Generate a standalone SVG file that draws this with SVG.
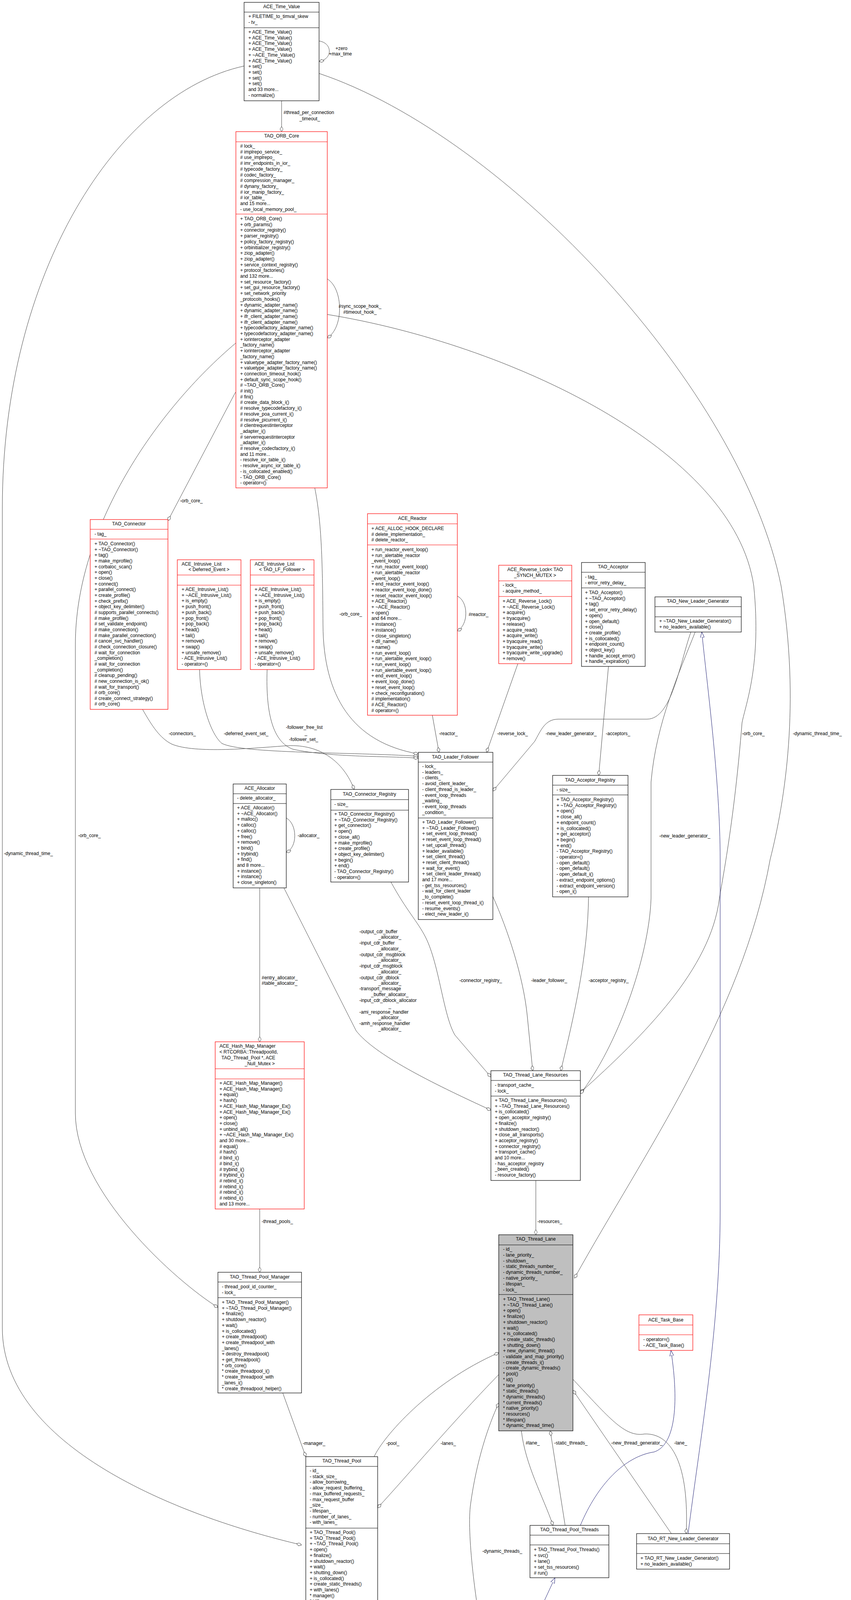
<svg xmlns="http://www.w3.org/2000/svg" width="2179" height="4395" viewBox="0 0 2179 4395">
<style>
text{font-family:"Liberation Sans",Arial,sans-serif;font-size:12px;fill:#000}
.c{text-anchor:middle}
.b{fill:#fff;stroke:#000;stroke-width:1.2}
.r{fill:#fff;stroke:#f00;stroke-width:1.2}
.g{fill:#bfbfbf;stroke:#000;stroke-width:1.2}
.sb{stroke:#000;stroke-width:1.2;fill:none}
.sr{stroke:#f00;stroke-width:1.2;fill:none}
.e{fill:none;stroke:#404040;stroke-width:1;marker-end:url(#dia)}
.i{fill:none;stroke:#191970;stroke-width:1;marker-end:url(#tri)}
</style>
<defs>
<marker id="dia" markerUnits="userSpaceOnUse" markerWidth="16" markerHeight="10" refX="13" refY="4" orient="auto" viewBox="0 0 16 10"><path d="M0,4 L6.5,0 L13,4 L6.5,8 Z" fill="#fff" stroke="#404040"/></marker>
<marker id="tri" markerUnits="userSpaceOnUse" markerWidth="16" markerHeight="12" refX="14" refY="6" orient="auto" viewBox="0 0 16 12"><path d="M0,1 L14,6 L0,11 Z" fill="#fff" stroke="#191970"/></marker>
</defs>
<rect width="2179" height="4395" fill="#fff"/>
<g id="connectors">
<path class="e" d="M721,258 L721,337"/>
<path class="e" d="M817,105 C852,110 852,152 817,157"/>
<path class="e" d="M625,169 C300,240 6,700 6,1300 L6,3400 C6,3700 450,3880 772,3955"/>
<path class="e" d="M817,188 C1300,350 1900,1000 2000,1500 C2050,1800 2010,2050 1972,2200 C1900,2600 1650,2950 1471,3272"/>
<path class="e" d="M838,714 C880,740 880,840 838,865"/>
<path class="e" d="M603,1004 L430,1333"/>
<path class="e" d="M806,1249 C822,1330 826,1420 827,1600 C828,1780 900,1900 1071,1930"/>
<path class="e" d="M838,805 C1300,880 1880,1150 1930,1500 C1950,1700 1910,1800 1900,1850 C1880,2100 1850,2250 1842,2300 C1820,2480 1650,2650 1486,2797"/>
<path class="e" d="M604,878 C400,1050 193,1350 193,1650 L193,2850 C193,3050 450,3280 558,3347"/>
<path class="e" d="M365,1816 C390,1860 410,1890 440,1905 C500,1930 650,1915 736,1909 C820,1905 880,1950 907,2021"/>
<path class="e" d="M511,1714 C513,1800 540,1880 568,1903 C620,1930 900,1925 1071,1936"/>
<path class="e" d="M684,1714 C680,1830 700,1900 750,1918 C850,1940 1000,1935 1071,1941"/>
<path class="e" d="M1107,1831 L1124,1926"/>
<path class="e" d="M1326,1699 L1246,1926"/>
<path class="e" d="M1769,1618 C1740,1700 1720,1841 1657,1841 L1430,1841 C1395,1841 1385,1870 1369,1898 L1262,2025"/>
<path class="e" d="M1558,1706 L1533,1985"/>
<path class="e" d="M1171,1526 C1200,1540 1200,1600 1171,1615"/>
<path class="e" d="M733,2094 C762,2110 762,2170 733,2182"/>
<path class="e" d="M665,2273 L665,2667"/>
<path class="e" d="M727,2273 L912,2639 C960,2700 1100,2770 1257,2842"/>
<path class="e" d="M665,3095 L665,3257"/>
<path class="e" d="M1001,2258 C1040,2330 1070,2360 1090,2400 C1125,2470 1135,2600 1165,2650 L1257,2757"/>
<path class="e" d="M1262,2295 C1300,2380 1340,2500 1350,2600 L1364,2741"/>
<path class="e" d="M1507,2296 C1505,2450 1470,2600 1436,2741"/>
<path class="e" d="M1780,1618 C1740,1720 1680,1850 1667,2002 L1667,2300 C1662,2450 1580,2680 1486,2800"/>
<path class="e" d="M1372,3022 L1372,3161"/>
<path class="e" d="M724,3566 L783,3729"/>
<path class="e" d="M958,3729 C980,3680 1100,3540 1277,3463"/>
<path class="e" d="M1277,3519 C1150,3650 1050,3770 967,3860"/>
<path class="e" d="M1250,4268 C1215,4100 1195,3920 1205,3850 C1220,3740 1250,3650 1277,3592"/>
<path class="e" d="M1335,3663 C1345,3750 1390,3830 1416,3905"/>
<path class="e" d="M1447,3905 L1409,3663"/>
<path class="e" d="M1719,3926 L1467,3559"/>
<path class="e" d="M1467,3531 C1560,3630 1600,3680 1650,3671 C1720,3668 1765,3750 1757,3926"/>
<path class="i" d="M1762,3926 C1790,3700 1844,3400 1844,3100 L1844,2200 C1844,2000 1810,1750 1797,1618"/>
<path class="i" d="M1486,3905 C1530,3800 1600,3728 1675,3717 C1727,3700 1740,3600 1718,3457"/>
<path class="i" d="M1315,4268 L1421,4039"/>
<text x="859" y="128">+zero</text>
<text x="842" y="142">+max_time</text>
<text x="726" y="292">#thread_per_connection</text>
<text class="c" x="793" y="308">_timeout_</text>
<text x="867" y="788">#sync_scope_hook_</text>
<text x="879" y="803">#timeout_hook_</text>
<text x="461" y="1286">-orb_core_</text>
<text x="869" y="1576">-orb_core_</text>
<text x="1200" y="1577">#reactor_</text>
<text x="432" y="1882">-connectors_</text>
<text x="573" y="1882">-deferred_event_set_</text>
<text x="732" y="1866">-follower_free_list</text>
<text x="780" y="1881">_</text>
<text x="740" y="1897">-follower_set_</text>
<text x="1124" y="1882">-reactor_</text>
<text x="1273" y="1882">-reverse_lock_</text>
<text x="1397" y="1882">-new_leader_generator_</text>
<text x="1551" y="1882">-acceptors_</text>
<text x="1900" y="1882">-orb_core_</text>
<text x="2030" y="1882">-dynamic_thread_time_</text>
<text x="762" y="2143">-allocator_</text>
<text x="200" y="2143">-orb_core_</text>
<text x="10" y="2189">-dynamic_thread_time_</text>
<text x="1688" y="2144">-new_leader_generator_</text>
<text x="670" y="2507">#entry_allocator_</text>
<text x="670" y="2521">#table_allocator_</text>
<text x="920" y="2389">-output_cdr_buffer</text>
<text class="c" x="998" y="2403">_allocator_</text>
<text x="920" y="2418">-input_cdr_buffer</text>
<text class="c" x="998" y="2433">_allocator_</text>
<text x="920" y="2448">-output_cdr_msgblock</text>
<text class="c" x="998" y="2462">_allocator_</text>
<text x="920" y="2477">-input_cdr_msgblock</text>
<text class="c" x="998" y="2492">_allocator_</text>
<text x="920" y="2507">-output_cdr_dblock</text>
<text class="c" x="998" y="2521">_allocator_</text>
<text x="920" y="2535">-transport_message</text>
<text class="c" x="998" y="2550">_buffer_allocator_</text>
<text x="920" y="2565">-input_cdr_dblock_allocator</text>
<text class="c" x="998" y="2580">_</text>
<text x="920" y="2595">-ami_response_handler</text>
<text class="c" x="998" y="2609">_allocator_</text>
<text x="920" y="2624">-amh_response_handler</text>
<text class="c" x="998" y="2638">_allocator_</text>
<text x="1176" y="2514">-connector_registry_</text>
<text x="1360" y="2514">-leader_follower_</text>
<text x="1507" y="2514">-acceptor_registry_</text>
<text x="670" y="3131">-thread_pools_</text>
<text x="1376" y="3131">-resources_</text>
<text x="775" y="3699">-manager_</text>
<text x="989" y="3699">-pool_</text>
<text x="1128" y="3699">-lanes_</text>
<text x="1346" y="3698">#lane_</text>
<text x="1419" y="3698">-static_threads_</text>
<text x="1565" y="3698">-new_thread_generator_</text>
<text x="1726" y="3698">-lane_</text>
<text x="1235" y="3975">-dynamic_threads_</text>
</g>
<g id="ace_time_value"><rect class="b" x="625" y="6" width="192" height="252"/><path class="sb" d="M625,31H817M625,71H817"/>
<text class="c" x="721" y="21">ACE_Time_Value</text>
<text x="636" y="46">+ FILETIME_to_timval_skew<tspan x="636" dy="14.7">- tv_</tspan></text>
<text x="636" y="86">+ ACE_Time_Value()<tspan x="636" dy="14.7">+ ACE_Time_Value()</tspan><tspan x="636" dy="14.7">+ ACE_Time_Value()</tspan><tspan x="636" dy="14.7">+ ACE_Time_Value()</tspan><tspan x="636" dy="14.7">+ ~ACE_Time_Value()</tspan><tspan x="636" dy="14.7">+ ACE_Time_Value()</tspan><tspan x="636" dy="14.7">+ set()</tspan><tspan x="636" dy="14.7">+ set()</tspan><tspan x="636" dy="14.7">+ set()</tspan><tspan x="636" dy="14.7">+ set()</tspan><tspan x="636" dy="14.7">and 33 more...</tspan><tspan x="636" dy="14.7">- normalize()</tspan></text></g>
<g id="tao_orb_core"><rect class="r" x="604" y="337" width="234" height="912"/><path class="sr" d="M604,363H838M604,548H838"/>
<text class="c" x="721" y="352">TAO_ORB_Core</text>
<text x="615" y="378"># lock_<tspan x="615" dy="14.7"># implrepo_service_</tspan><tspan x="615" dy="14.7"># use_implrepo_</tspan><tspan x="615" dy="14.7"># imr_endpoints_in_ior_</tspan><tspan x="615" dy="14.7"># typecode_factory_</tspan><tspan x="615" dy="14.7"># codec_factory_</tspan><tspan x="615" dy="14.7"># compression_manager_</tspan><tspan x="615" dy="14.7"># dynany_factory_</tspan><tspan x="615" dy="14.7"># ior_manip_factory_</tspan><tspan x="615" dy="14.7"># ior_table_</tspan><tspan x="615" dy="14.7">and 15 more...</tspan><tspan x="615" dy="14.7">- use_local_memory_pool_</tspan></text>
<text x="615" y="564">+ TAO_ORB_Core()<tspan x="615" dy="14.7">+ orb_params()</tspan><tspan x="615" dy="14.7">+ connector_registry()</tspan><tspan x="615" dy="14.7">+ parser_registry()</tspan><tspan x="615" dy="14.7">+ policy_factory_registry()</tspan><tspan x="615" dy="14.7">+ orbinitializer_registry()</tspan><tspan x="615" dy="14.7">+ ziop_adapter()</tspan><tspan x="615" dy="14.7">+ ziop_adapter()</tspan><tspan x="615" dy="14.7">+ service_context_registry()</tspan><tspan x="615" dy="14.7">+ protocol_factories()</tspan><tspan x="615" dy="14.7">and 132 more...</tspan><tspan x="615" dy="14.7">+ set_resource_factory()</tspan><tspan x="615" dy="14.7">+ set_gui_resource_factory()</tspan><tspan x="615" dy="14.7">+ set_network_priority</tspan><tspan x="615" dy="14.7">_protocols_hooks()</tspan><tspan x="615" dy="14.7">+ dynamic_adapter_name()</tspan><tspan x="615" dy="14.7">+ dynamic_adapter_name()</tspan><tspan x="615" dy="14.7">+ ifr_client_adapter_name()</tspan><tspan x="615" dy="14.7">+ ifr_client_adapter_name()</tspan><tspan x="615" dy="14.7">+ typecodefactory_adapter_name()</tspan><tspan x="615" dy="14.7">+ typecodefactory_adapter_name()</tspan><tspan x="615" dy="14.7">+ iorinterceptor_adapter</tspan><tspan x="615" dy="14.7">_factory_name()</tspan><tspan x="615" dy="14.7">+ iorinterceptor_adapter</tspan><tspan x="615" dy="14.7">_factory_name()</tspan><tspan x="615" dy="14.7">+ valuetype_adapter_factory_name()</tspan><tspan x="615" dy="14.7">+ valuetype_adapter_factory_name()</tspan><tspan x="615" dy="14.7">+ connection_timeout_hook()</tspan><tspan x="615" dy="14.7">+ default_sync_scope_hook()</tspan><tspan x="615" dy="14.7"># ~TAO_ORB_Core()</tspan><tspan x="615" dy="14.7"># init()</tspan><tspan x="615" dy="14.7"># fini()</tspan><tspan x="615" dy="14.7"># create_data_block_i()</tspan><tspan x="615" dy="14.7"># resolve_typecodefactory_i()</tspan><tspan x="615" dy="14.7"># resolve_poa_current_i()</tspan><tspan x="615" dy="14.7"># resolve_picurrent_i()</tspan><tspan x="615" dy="14.7"># clientrequestinterceptor</tspan><tspan x="615" dy="14.7">_adapter_i()</tspan><tspan x="615" dy="14.7"># serverrequestinterceptor</tspan><tspan x="615" dy="14.7">_adapter_i()</tspan><tspan x="615" dy="14.7"># resolve_codecfactory_i()</tspan><tspan x="615" dy="14.7">and 11 more...</tspan><tspan x="615" dy="14.7">- resolve_ior_table_i()</tspan><tspan x="615" dy="14.7">- resolve_async_ior_table_i()</tspan><tspan x="615" dy="14.7">- is_collocated_enabled()</tspan><tspan x="615" dy="14.7">- TAO_ORB_Core()</tspan><tspan x="615" dy="14.7">- operator=()</tspan></text></g>
<g id="tao_connector"><rect class="r" x="231" y="1330" width="199" height="486"/><path class="sr" d="M231,1355H430M231,1380H430"/>
<text class="c" x="330" y="1345">TAO_Connector</text>
<text x="242" y="1371">- tag_</text>
<text x="242" y="1396">+ TAO_Connector()<tspan x="242" dy="14.66">+ ~TAO_Connector()</tspan><tspan x="242" dy="14.66">+ tag()</tspan><tspan x="242" dy="14.66">+ make_mprofile()</tspan><tspan x="242" dy="14.66">+ corbaloc_scan()</tspan><tspan x="242" dy="14.66">+ open()</tspan><tspan x="242" dy="14.66">+ close()</tspan><tspan x="242" dy="14.66">+ connect()</tspan><tspan x="242" dy="14.66">+ parallel_connect()</tspan><tspan x="242" dy="14.66">+ create_profile()</tspan><tspan x="242" dy="14.66">+ check_prefix()</tspan><tspan x="242" dy="14.66">+ object_key_delimiter()</tspan><tspan x="242" dy="14.66"># supports_parallel_connects()</tspan><tspan x="242" dy="14.66"># make_profile()</tspan><tspan x="242" dy="14.66"># set_validate_endpoint()</tspan><tspan x="242" dy="14.66"># make_connection()</tspan><tspan x="242" dy="14.66"># make_parallel_connection()</tspan><tspan x="242" dy="14.66"># cancel_svc_handler()</tspan><tspan x="242" dy="14.66"># check_connection_closure()</tspan><tspan x="242" dy="14.66"># wait_for_connection</tspan><tspan x="242" dy="14.66">_completion()</tspan><tspan x="242" dy="14.66"># wait_for_connection</tspan><tspan x="242" dy="14.66">_completion()</tspan><tspan x="242" dy="14.66"># cleanup_pending()</tspan><tspan x="242" dy="14.66"># new_connection_is_ok()</tspan><tspan x="242" dy="14.66"># wait_for_transport()</tspan><tspan x="242" dy="14.66"># orb_core()</tspan><tspan x="242" dy="14.66"># create_connect_strategy()</tspan><tspan x="242" dy="14.66"># orb_core()</tspan></text></g>
<g id="intrusive_list_deferred"><rect class="r" x="454" y="1433" width="163" height="281"/><path class="sr" d="M454,1472H617M454,1498H617"/>
<text x="465" y="1448">ACE_Intrusive_List</text><text class="c" x="535" y="1462">&lt; Deferred_Event &gt;</text>
<text x="465" y="1513">+ ACE_Intrusive_List()<tspan x="465" dy="14.7">+ ~ACE_Intrusive_List()</tspan><tspan x="465" dy="14.7">+ is_empty()</tspan><tspan x="465" dy="14.7">+ push_front()</tspan><tspan x="465" dy="14.7">+ push_back()</tspan><tspan x="465" dy="14.7">+ pop_front()</tspan><tspan x="465" dy="14.7">+ pop_back()</tspan><tspan x="465" dy="14.7">+ head()</tspan><tspan x="465" dy="14.7">+ tail()</tspan><tspan x="465" dy="14.7">+ remove()</tspan><tspan x="465" dy="14.7">+ swap()</tspan><tspan x="465" dy="14.7">+ unsafe_remove()</tspan><tspan x="465" dy="14.7">- ACE_Intrusive_List()</tspan><tspan x="465" dy="14.7">- operator=()</tspan></text></g>
<g id="intrusive_list_follower"><rect class="r" x="641" y="1433" width="163" height="281"/><path class="sr" d="M641,1472H804M641,1498H804"/>
<text x="652" y="1448">ACE_Intrusive_List</text><text class="c" x="722" y="1462">&lt; TAO_LF_Follower &gt;</text>
<text x="652" y="1513">+ ACE_Intrusive_List()<tspan x="652" dy="14.7">+ ~ACE_Intrusive_List()</tspan><tspan x="652" dy="14.7">+ is_empty()</tspan><tspan x="652" dy="14.7">+ push_front()</tspan><tspan x="652" dy="14.7">+ push_back()</tspan><tspan x="652" dy="14.7">+ pop_front()</tspan><tspan x="652" dy="14.7">+ pop_back()</tspan><tspan x="652" dy="14.7">+ head()</tspan><tspan x="652" dy="14.7">+ tail()</tspan><tspan x="652" dy="14.7">+ remove()</tspan><tspan x="652" dy="14.7">+ swap()</tspan><tspan x="652" dy="14.7">+ unsafe_remove()</tspan><tspan x="652" dy="14.7">- ACE_Intrusive_List()</tspan><tspan x="652" dy="14.7">- operator=()</tspan></text></g>
<g id="ace_reactor"><rect class="r" x="941" y="1315" width="230" height="516"/><path class="sr" d="M941,1341H1171M941,1395H1171"/>
<text class="c" x="1056" y="1331">ACE_Reactor</text>
<text x="951" y="1357">+ ACE_ALLOC_HOOK_DECLARE<tspan x="951" dy="14.7"># delete_implementation_</tspan><tspan x="951" dy="14.7"># delete_reactor_</tspan></text>
<text x="951" y="1411">+ run_reactor_event_loop()<tspan x="951" dy="14.7">+ run_alertable_reactor</tspan><tspan x="951" dy="14.7">_event_loop()</tspan><tspan x="951" dy="14.7">+ run_reactor_event_loop()</tspan><tspan x="951" dy="14.7">+ run_alertable_reactor</tspan><tspan x="951" dy="14.7">_event_loop()</tspan><tspan x="951" dy="14.7">+ end_reactor_event_loop()</tspan><tspan x="951" dy="14.7">+ reactor_event_loop_done()</tspan><tspan x="951" dy="14.7">+ reset_reactor_event_loop()</tspan><tspan x="951" dy="14.7">+ ACE_Reactor()</tspan><tspan x="951" dy="14.7">+ ~ACE_Reactor()</tspan><tspan x="951" dy="14.7">+ open()</tspan><tspan x="951" dy="14.7">and 64 more...</tspan><tspan x="951" dy="14.7">+ instance()</tspan><tspan x="951" dy="14.7">+ instance()</tspan><tspan x="951" dy="14.7">+ close_singleton()</tspan><tspan x="951" dy="14.7">+ dll_name()</tspan><tspan x="951" dy="14.7">+ name()</tspan><tspan x="951" dy="14.7">+ run_event_loop()</tspan><tspan x="951" dy="14.7">+ run_alertable_event_loop()</tspan><tspan x="951" dy="14.7">+ run_event_loop()</tspan><tspan x="951" dy="14.7">+ run_alertable_event_loop()</tspan><tspan x="951" dy="14.7">+ end_event_loop()</tspan><tspan x="951" dy="14.7">+ event_loop_done()</tspan><tspan x="951" dy="14.7">+ reset_event_loop()</tspan><tspan x="951" dy="14.7">+ check_reconfiguration()</tspan><tspan x="951" dy="14.7"># implementation()</tspan><tspan x="951" dy="14.7"># ACE_Reactor()</tspan><tspan x="951" dy="14.7"># operator=()</tspan></text></g>
<g id="ace_reverse_lock"><rect class="r" x="1277" y="1447" width="187" height="252"/><path class="sr" d="M1277,1487H1464M1277,1527H1464"/>
<text class="c" x="1370" y="1462">ACE_Reverse_Lock&lt; TAO</text><text class="c" x="1370" y="1477">_SYNCH_MUTEX &gt;</text>
<text x="1287" y="1502">- lock_<tspan x="1287" dy="14.7">- acquire_method_</tspan></text>
<text x="1287" y="1543">+ ACE_Reverse_Lock()<tspan x="1287" dy="14.7">+ ~ACE_Reverse_Lock()</tspan><tspan x="1287" dy="14.7">+ acquire()</tspan><tspan x="1287" dy="14.7">+ tryacquire()</tspan><tspan x="1287" dy="14.7">+ release()</tspan><tspan x="1287" dy="14.7">+ acquire_read()</tspan><tspan x="1287" dy="14.7">+ acquire_write()</tspan><tspan x="1287" dy="14.7">+ tryacquire_read()</tspan><tspan x="1287" dy="14.7">+ tryacquire_write()</tspan><tspan x="1287" dy="14.7">+ tryacquire_write_upgrade()</tspan><tspan x="1287" dy="14.7">+ remove()</tspan></text></g>
<g id="tao_acceptor"><rect class="b" x="1489" y="1440" width="163" height="266"/><path class="sb" d="M1489,1465H1652M1489,1505H1652"/>
<text class="c" x="1570" y="1455">TAO_Acceptor</text>
<text x="1498" y="1481">- tag_<tspan x="1498" dy="14.7">- error_retry_delay_</tspan></text>
<text x="1498" y="1521">+ TAO_Acceptor()<tspan x="1498" dy="14.7">+ ~TAO_Acceptor()</tspan><tspan x="1498" dy="14.7">+ tag()</tspan><tspan x="1498" dy="14.7">+ set_error_retry_delay()</tspan><tspan x="1498" dy="14.7">+ open()</tspan><tspan x="1498" dy="14.7">+ open_default()</tspan><tspan x="1498" dy="14.7">+ close()</tspan><tspan x="1498" dy="14.7">+ create_profile()</tspan><tspan x="1498" dy="14.7">+ is_collocated()</tspan><tspan x="1498" dy="14.7">+ endpoint_count()</tspan><tspan x="1498" dy="14.7">+ object_key()</tspan><tspan x="1498" dy="14.7">+ handle_accept_error()</tspan><tspan x="1498" dy="14.7">+ handle_expiration()</tspan></text></g>
<g id="tao_new_leader_generator"><rect class="b" x="1677" y="1528" width="221" height="90"/><path class="sb" d="M1677,1553H1898M1677,1579H1898"/>
<text class="c" x="1787" y="1543">TAO_New_Leader_Generator</text>
<text x="1688" y="1594">+ ~TAO_New_Leader_Generator()<tspan x="1688" dy="14.7">+ no_leaders_available()</tspan></text></g>
<g id="tao_leader_follower"><rect class="b" x="1071" y="1926" width="191" height="428"/><path class="sb" d="M1071,1951H1262M1071,2094H1262"/>
<text class="c" x="1166" y="1942">TAO_Leader_Follower</text>
<text x="1081" y="1966">- lock_<tspan x="1081" dy="14.7">- leaders_</tspan><tspan x="1081" dy="14.7">- clients_</tspan><tspan x="1081" dy="14.7">- avoid_client_leader_</tspan><tspan x="1081" dy="14.7">- client_thread_is_leader_</tspan><tspan x="1081" dy="14.7">- event_loop_threads</tspan><tspan x="1081" dy="14.7">_waiting_</tspan><tspan x="1081" dy="14.7">- event_loop_threads</tspan><tspan x="1081" dy="14.7">_condition_</tspan></text>
<text x="1081" y="2109">+ TAO_Leader_Follower()<tspan x="1081" dy="14.7">+ ~TAO_Leader_Follower()</tspan><tspan x="1081" dy="14.7">+ set_event_loop_thread()</tspan><tspan x="1081" dy="14.7">+ reset_event_loop_thread()</tspan><tspan x="1081" dy="14.7">+ set_upcall_thread()</tspan><tspan x="1081" dy="14.7">+ leader_available()</tspan><tspan x="1081" dy="14.7">+ set_client_thread()</tspan><tspan x="1081" dy="14.7">+ reset_client_thread()</tspan><tspan x="1081" dy="14.7">+ wait_for_event()</tspan><tspan x="1081" dy="14.7">+ set_client_leader_thread()</tspan><tspan x="1081" dy="14.7">and 17 more...</tspan><tspan x="1081" dy="14.7">- get_tss_resources()</tspan><tspan x="1081" dy="14.7">- wait_for_client_leader</tspan><tspan x="1081" dy="14.7">_to_complete()</tspan><tspan x="1081" dy="14.7">- reset_event_loop_thread_i()</tspan><tspan x="1081" dy="14.7">- resume_events()</tspan><tspan x="1081" dy="14.7">- elect_new_leader_i()</tspan></text></g>
<g id="tao_connector_registry"><rect class="b" x="847" y="2021" width="199" height="237"/><path class="sb" d="M847,2047H1046M847,2074H1046"/>
<text class="c" x="946" y="2037">TAO_Connector_Registry</text>
<text x="856" y="2063">- size_</text>
<text x="856" y="2088">+ TAO_Connector_Registry()<tspan x="856" dy="14.7">+ ~TAO_Connector_Registry()</tspan><tspan x="856" dy="14.7">+ get_connector()</tspan><tspan x="856" dy="14.7">+ open()</tspan><tspan x="856" dy="14.7">+ close_all()</tspan><tspan x="856" dy="14.7">+ make_mprofile()</tspan><tspan x="856" dy="14.7">+ create_profile()</tspan><tspan x="856" dy="14.7">+ object_key_delimiter()</tspan><tspan x="856" dy="14.7">+ begin()</tspan><tspan x="856" dy="14.7">+ end()</tspan><tspan x="856" dy="14.7">- TAO_Connector_Registry()</tspan><tspan x="856" dy="14.7">- operator=()</tspan></text></g>
<g id="tao_acceptor_registry"><rect class="b" x="1415" y="1985" width="193" height="311"/><path class="sb" d="M1415,2010H1608M1415,2035H1608"/>
<text class="c" x="1511" y="2001">TAO_Acceptor_Registry</text>
<text x="1425" y="2026">- size_</text>
<text x="1425" y="2051">+ TAO_Acceptor_Registry()<tspan x="1425" dy="14.7">+ ~TAO_Acceptor_Registry()</tspan><tspan x="1425" dy="14.7">+ open()</tspan><tspan x="1425" dy="14.7">+ close_all()</tspan><tspan x="1425" dy="14.7">+ endpoint_count()</tspan><tspan x="1425" dy="14.7">+ is_collocated()</tspan><tspan x="1425" dy="14.7">+ get_acceptor()</tspan><tspan x="1425" dy="14.7">+ begin()</tspan><tspan x="1425" dy="14.7">+ end()</tspan><tspan x="1425" dy="14.7">- TAO_Acceptor_Registry()</tspan><tspan x="1425" dy="14.7">- operator=()</tspan><tspan x="1425" dy="14.7">- open_default()</tspan><tspan x="1425" dy="14.7">- open_default()</tspan><tspan x="1425" dy="14.7">- open_default_i()</tspan><tspan x="1425" dy="14.7">- extract_endpoint_options()</tspan><tspan x="1425" dy="14.7">- extract_endpoint_version()</tspan><tspan x="1425" dy="14.7">- open_i()</tspan></text></g>
<g id="ace_allocator"><rect class="b" x="597" y="2007" width="136" height="266"/><path class="sb" d="M597,2032H733M597,2057H733"/>
<text class="c" x="665" y="2022">ACE_Allocator</text>
<text x="607" y="2047">- delete_allocator_</text>
<text x="607" y="2072">+ ACE_Allocator()<tspan x="607" dy="14.7">+ ~ACE_Allocator()</tspan><tspan x="607" dy="14.7">+ malloc()</tspan><tspan x="607" dy="14.7">+ calloc()</tspan><tspan x="607" dy="14.7">+ calloc()</tspan><tspan x="607" dy="14.7">+ free()</tspan><tspan x="607" dy="14.7">+ remove()</tspan><tspan x="607" dy="14.7">+ bind()</tspan><tspan x="607" dy="14.7">+ trybind()</tspan><tspan x="607" dy="14.7">+ find()</tspan><tspan x="607" dy="14.7">and 8 more...</tspan><tspan x="607" dy="14.7">+ instance()</tspan><tspan x="607" dy="14.7">+ instance()</tspan><tspan x="607" dy="14.7">+ close_singleton()</tspan></text></g>
<g id="ace_hash_map_manager"><rect class="r" x="551" y="2667" width="228" height="428"/><path class="sr" d="M551,2736H779M551,2762H779"/>
<text x="562" y="2682">ACE_Hash_Map_Manager</text><text x="562" y="2697">&lt; RTCORBA::ThreadpoolId,</text><text x="567" y="2712">TAO_Thread_Pool *, ACE</text><text class="c" x="665" y="2727">_Null_Mutex &gt;</text>
<text x="562" y="2777">+ ACE_Hash_Map_Manager()<tspan x="562" dy="14.7">+ ACE_Hash_Map_Manager()</tspan><tspan x="562" dy="14.7">+ equal()</tspan><tspan x="562" dy="14.7">+ hash()</tspan><tspan x="562" dy="14.7">+ ACE_Hash_Map_Manager_Ex()</tspan><tspan x="562" dy="14.7">+ ACE_Hash_Map_Manager_Ex()</tspan><tspan x="562" dy="14.7">+ open()</tspan><tspan x="562" dy="14.7">+ close()</tspan><tspan x="562" dy="14.7">+ unbind_all()</tspan><tspan x="562" dy="14.7">+ ~ACE_Hash_Map_Manager_Ex()</tspan><tspan x="562" dy="14.7">and 30 more...</tspan><tspan x="562" dy="14.7"># equal()</tspan><tspan x="562" dy="14.7"># hash()</tspan><tspan x="562" dy="14.7"># bind_i()</tspan><tspan x="562" dy="14.7"># bind_i()</tspan><tspan x="562" dy="14.7"># trybind_i()</tspan><tspan x="562" dy="14.7"># trybind_i()</tspan><tspan x="562" dy="14.7"># rebind_i()</tspan><tspan x="562" dy="14.7"># rebind_i()</tspan><tspan x="562" dy="14.7"># rebind_i()</tspan><tspan x="562" dy="14.7"># rebind_i()</tspan><tspan x="562" dy="14.7">and 13 more...</tspan></text></g>
<g id="tao_thread_lane_resources"><rect class="b" x="1257" y="2741" width="229" height="281"/><path class="sb" d="M1257,2766H1486M1257,2806H1486"/>
<text class="c" x="1371" y="2756">TAO_Thread_Lane_Resources</text>
<text x="1267" y="2782">- transport_cache_<tspan x="1267" dy="14.7">- lock_</tspan></text>
<text x="1267" y="2821">+ TAO_Thread_Lane_Resources()<tspan x="1267" dy="14.7">+ ~TAO_Thread_Lane_Resources()</tspan><tspan x="1267" dy="14.7">+ is_collocated()</tspan><tspan x="1267" dy="14.7">+ open_acceptor_registry()</tspan><tspan x="1267" dy="14.7">+ finalize()</tspan><tspan x="1267" dy="14.7">+ shutdown_reactor()</tspan><tspan x="1267" dy="14.7">+ close_all_transports()</tspan><tspan x="1267" dy="14.7">+ acceptor_registry()</tspan><tspan x="1267" dy="14.7">+ connector_registry()</tspan><tspan x="1267" dy="14.7">+ transport_cache()</tspan><tspan x="1267" dy="14.7">and 10 more...</tspan><tspan x="1267" dy="14.7">- has_acceptor_registry</tspan><tspan x="1267" dy="14.7">_been_created()</tspan><tspan x="1267" dy="14.7">- resource_factory()</tspan></text></g>
<g id="tao_thread_lane"><rect class="g" x="1277" y="3161" width="190" height="502"/><path class="sb" d="M1277,3187H1467M1277,3314H1467"/>
<text class="c" x="1372" y="3176">TAO_Thread_Lane</text>
<text x="1288" y="3202">- id_<tspan x="1288" dy="14.8">- lane_priority_</tspan><tspan x="1288" dy="14.8">- shutdown_</tspan><tspan x="1288" dy="14.8">- static_threads_number_</tspan><tspan x="1288" dy="14.8">- dynamic_threads_number_</tspan><tspan x="1288" dy="14.8">- native_priority_</tspan><tspan x="1288" dy="14.8">- lifespan_</tspan><tspan x="1288" dy="14.8">- lock_</tspan></text>
<text x="1288" y="3330">+ TAO_Thread_Lane()<tspan x="1288" dy="14.7">+ ~TAO_Thread_Lane()</tspan><tspan x="1288" dy="14.7">+ open()</tspan><tspan x="1288" dy="14.7">+ finalize()</tspan><tspan x="1288" dy="14.7">+ shutdown_reactor()</tspan><tspan x="1288" dy="14.7">+ wait()</tspan><tspan x="1288" dy="14.7">+ is_collocated()</tspan><tspan x="1288" dy="14.7">+ create_static_threads()</tspan><tspan x="1288" dy="14.7">+ shutting_down()</tspan><tspan x="1288" dy="14.7">+ new_dynamic_thread()</tspan><tspan x="1288" dy="14.7">- validate_and_map_priority()</tspan><tspan x="1288" dy="14.7">- create_threads_i()</tspan><tspan x="1288" dy="14.7">- create_dynamic_threads()</tspan><tspan x="1288" dy="14.7">* pool()</tspan><tspan x="1288" dy="14.7">* id()</tspan><tspan x="1288" dy="14.7">* lane_priority()</tspan><tspan x="1288" dy="14.7">* static_threads()</tspan><tspan x="1288" dy="14.7">* dynamic_threads()</tspan><tspan x="1288" dy="14.7">* current_threads()</tspan><tspan x="1288" dy="14.7">* native_priority()</tspan><tspan x="1288" dy="14.7">* resources()</tspan><tspan x="1288" dy="14.7">* lifespan()</tspan><tspan x="1288" dy="14.7">* dynamic_thread_time()</tspan></text></g>
<g id="ace_task_base"><rect class="r" x="1636" y="3366" width="138" height="91"/><path class="sr" d="M1636,3392H1774M1636,3417H1774"/>
<text class="c" x="1705" y="3383">ACE_Task_Base</text>
<text x="1647" y="3433">- operator=()<tspan x="1647" dy="14.7">- ACE_Task_Base()</tspan></text></g>
<g id="tao_thread_pool_manager"><rect class="b" x="558" y="3257" width="214" height="309"/><path class="sb" d="M558,3282H772M558,3322H772"/>
<text class="c" x="665" y="3273">TAO_Thread_Pool_Manager</text>
<text x="568" y="3298">- thread_pool_id_counter_<tspan x="568" dy="14.7">- lock_</tspan></text>
<text x="568" y="3338">+ TAO_Thread_Pool_Manager()<tspan x="568" dy="14.7">+ ~TAO_Thread_Pool_Manager()</tspan><tspan x="568" dy="14.7">+ finalize()</tspan><tspan x="568" dy="14.7">+ shutdown_reactor()</tspan><tspan x="568" dy="14.7">+ wait()</tspan><tspan x="568" dy="14.7">+ is_collocated()</tspan><tspan x="568" dy="14.7">+ create_threadpool()</tspan><tspan x="568" dy="14.7">+ create_threadpool_with</tspan><tspan x="568" dy="14.7">_lanes()</tspan><tspan x="568" dy="14.7">+ destroy_threadpool()</tspan><tspan x="568" dy="14.7">+ get_threadpool()</tspan><tspan x="568" dy="14.7">* orb_core()</tspan><tspan x="568" dy="14.7">* create_threadpool_i()</tspan><tspan x="568" dy="14.7">* create_threadpool_with</tspan><tspan x="568" dy="14.7">_lanes_i()</tspan><tspan x="568" dy="14.7">* create_threadpool_helper()</tspan></text></g>
<g id="tao_thread_pool"><rect class="b" x="783" y="3729" width="184" height="486"/><path class="sb" d="M783,3754H967M783,3912H967"/>
<text class="c" x="875" y="3744">TAO_Thread_Pool</text>
<text x="793" y="3769">- id_<tspan x="793" dy="14.7">- stack_size_</tspan><tspan x="793" dy="14.7">- allow_borrowing_</tspan><tspan x="793" dy="14.7">- allow_request_buffering_</tspan><tspan x="793" dy="14.7">- max_buffered_requests_</tspan><tspan x="793" dy="14.7">- max_request_buffer</tspan><tspan x="793" dy="14.7">_size_</tspan><tspan x="793" dy="14.7">- lifespan_</tspan><tspan x="793" dy="14.7">- number_of_lanes_</tspan><tspan x="793" dy="14.7">- with_lanes_</tspan></text>
<text x="793" y="3927">+ TAO_Thread_Pool()<tspan x="793" dy="14.7">+ TAO_Thread_Pool()</tspan><tspan x="793" dy="14.7">+ ~TAO_Thread_Pool()</tspan><tspan x="793" dy="14.7">+ open()</tspan><tspan x="793" dy="14.7">+ finalize()</tspan><tspan x="793" dy="14.7">+ shutdown_reactor()</tspan><tspan x="793" dy="14.7">+ wait()</tspan><tspan x="793" dy="14.7">+ shutting_down()</tspan><tspan x="793" dy="14.7">+ is_collocated()</tspan><tspan x="793" dy="14.7">+ create_static_threads()</tspan><tspan x="793" dy="14.7">+ with_lanes()</tspan><tspan x="793" dy="14.7">* manager()</tspan><tspan x="793" dy="14.7">* id()</tspan><tspan x="793" dy="14.7">* stack_size()</tspan><tspan x="793" dy="14.7">* allow_borrowing()</tspan><tspan x="793" dy="14.7">* allow_request_buffering()</tspan><tspan x="793" dy="14.7">* max_buffered_requests()</tspan><tspan x="793" dy="14.7">* max_request_buffer_size()</tspan><tspan x="793" dy="14.7">* lanes()</tspan><tspan x="793" dy="14.7">* number_of_lanes()</tspan></text></g>
<g id="tao_thread_pool_threads"><rect class="b" x="1357" y="3905" width="202" height="134"/><path class="sb" d="M1357,3930H1559M1357,3955H1559"/>
<text class="c" x="1458" y="3920">TAO_Thread_Pool_Threads</text>
<text x="1367" y="3971">+ TAO_Thread_Pool_Threads()<tspan x="1367" dy="14.9">+ svc()</tspan><tspan x="1367" dy="14.9">+ lane()</tspan><tspan x="1367" dy="14.9">+ set_tss_resources()</tspan><tspan x="1367" dy="14.9"># run()</tspan></text></g>
<g id="tao_rt_new_leader_generator"><rect class="b" x="1630" y="3926" width="238" height="91"/><path class="sb" d="M1630,3952H1868M1630,3977H1868"/>
<text class="c" x="1749" y="3943">TAO_RT_New_Leader_Generator</text>
<text x="1640" y="3993">+ TAO_RT_New_Leader_Generator()<tspan x="1640" dy="14.9">+ no_leaders_available()</tspan></text></g>
<g id="tao_dynamic_thread_pool_threads"><rect class="b" x="1203" y="4268" width="167" height="120"/><path class="sb" d="M1203,4308H1370M1203,4333H1370"/>
<text x="1214" y="4284">TAO_Dynamic_Thread</text><text class="c" x="1286" y="4299">_Pool_Threads</text>
<text x="1213" y="4348">+ TAO_Dynamic_Thread<tspan x="1213" dy="14.9">_Pool_Threads()</tspan><tspan x="1213" dy="14.9"># run()</tspan></text></g>
</svg>
